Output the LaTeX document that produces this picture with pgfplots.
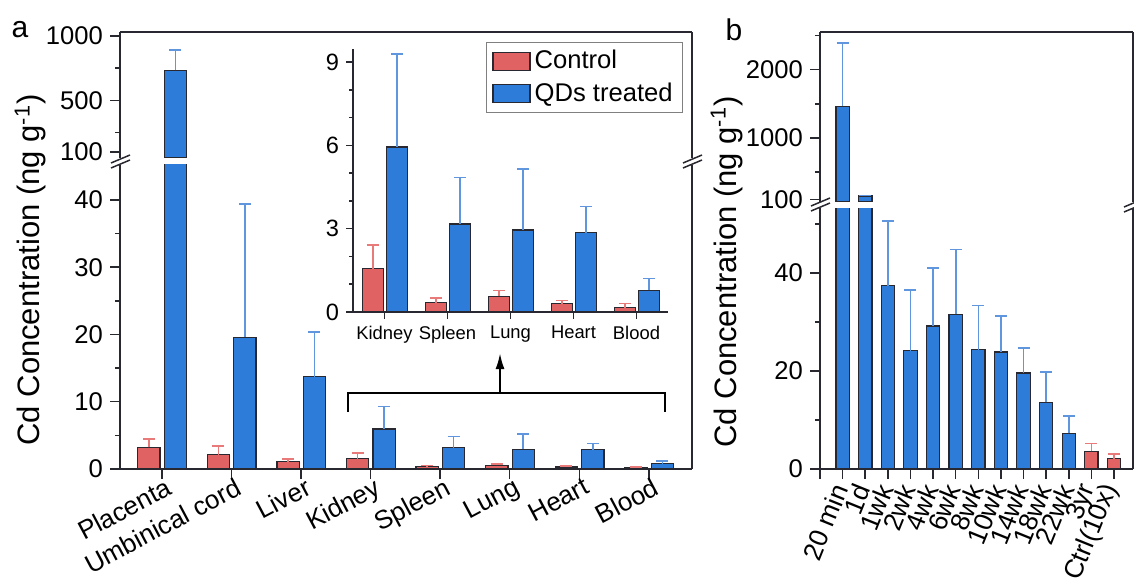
\documentclass[border=0pt]{standalone}
\usepackage{fontspec}
\setmainfont{Liberation Sans}
\usepackage{pgfplots}
\pgfplotsset{compat=1.18}
\usetikzlibrary{arrows.meta}
\definecolor{cred}{RGB}{224,98,98}
\definecolor{cblue}{RGB}{46,124,218}
\definecolor{ered}{RGB}{232,122,122}
\definecolor{eblue}{RGB}{95,150,222}
\definecolor{edge}{RGB}{40,40,48}
\newcommand\fmain{\fontsize{12.8}{15}\selectfont}
\newcommand\fcat{\fontsize{13}{16}\selectfont}
\newcommand\fcatb{\fontsize{13.2}{16}\selectfont}
\newcommand\fsmall{\fontsize{9.2}{11}\selectfont}
\newcommand\finset{\fontsize{11.8}{14}\selectfont}
\newcommand\flab{\fontsize{15.5}{18}\selectfont}
\pgfplotsset{
  base/.style={scale only axis, anchor=south west,
    /pgf/number format/assume math mode=true,
    /pgf/number format/1000 sep={},
    scaled y ticks=false,
    tick align=outside,
    axis line style={line width=0.75pt, edge},
    major tick length=5pt, minor tick length=2.5pt,
    every tick/.append style={line width=0.75pt, edge},
    tick label style={font=\fmain},
    ybar},
  redbar/.style={fill=cred, draw=edge, line width=0.6pt,
    error bars/y dir=plus, error bars/y explicit,
    error bars/error bar style={line width=0.8pt, ered},
    error bars/error mark options={rotate=90, mark size=3pt, line width=0.8pt, ered}},
  bluebar/.style={fill=cblue, draw=edge, line width=0.6pt,
    error bars/y dir=plus, error bars/y explicit,
    error bars/error bar style={line width=0.8pt, eblue},
    error bars/error mark options={rotate=90, mark size=3pt, line width=0.8pt, eblue}},
}
\begin{document}
\begin{tikzpicture}
\path[use as bounding box] (0,0) rectangle (567pt,289.5pt);

% ---------------- panel a, lower part
\begin{axis}[base, name=alow, at={(60pt,55pt)}, width=286pt, height=152pt,
  xmin=-0.6, xmax=7.62, ymin=0, ymax=45.2,
  axis x line*=bottom, axis y line*=left,
  ytick={0,10,20,30,40}, minor ytick={5,15,25,35},
  xtick={0,...,7},
  xticklabels={Placenta,Umbinical cord,Liver,Kidney,Spleen,Lung,Heart,Blood},
  xticklabel style={font=\fcat, rotate=28, anchor=north east, inner sep=1pt, xshift=3pt, yshift=1.5pt},
  bar width=0.32]
\addplot[bar shift=-0.185, redbar] coordinates {
 (0,3.2) +- (0,1.25)  (1,2.15) +- (0,1.3)  (2,1.1) +- (0,0.35)  (3,1.56) +- (0,0.86)
 (4,0.34) +- (0,0.16) (5,0.56) +- (0,0.21) (6,0.30) +- (0,0.12) (7,0.16) +- (0,0.15)};
\addplot[bar shift=0.195, bluebar] coordinates {
 (0,735) +- (0,155)   (1,19.6) +- (0,19.8) (2,13.7) +- (0,6.7)  (3,5.94) +- (0,3.36)
 (4,3.17) +- (0,1.67) (5,2.95) +- (0,2.21) (6,2.85) +- (0,0.95) (7,0.78) +- (0,0.42)};
\end{axis}

% ---------------- panel a, upper part
\begin{axis}[base, name=aup, at={(60pt,210.5pt)}, width=286pt, height=63pt,
  xmin=-0.6, xmax=7.62, ymin=53.5, ymax=1031,
  axis x line*=top, axis y line*=left, xtick=\empty,
  ytick={100,500,1000}, minor ytick={250,750},
  bar width=0.32]
\addplot[bar shift=0.195, bluebar] coordinates {(0,735) +- (0,155)};
\end{axis}

% ---------------- inset
\begin{axis}[base, name=inset, at={(176.5pt,133.5pt)}, width=157.5pt, height=131.5pt,
  xmin=-0.5, xmax=4.5, ymin=0, ymax=9.47,
  axis x line*=bottom, axis y line*=left,
  ytick={0,3,6,9}, minor y tick num=2,
  xtick={0,...,4}, xticklabels={Kidney,Spleen,Lung,Heart,Blood},
  xticklabel style={font=\fsmall}, yticklabel style={font=\finset},
  major tick length=3.5pt, minor tick length=2pt,
  bar width=0.33,
  legend style={at={(1.048,1.027)}, anchor=north east, draw=gray, line width=0.5pt,
    font=\fmain, fill=white, inner xsep=3pt, inner ysep=2pt, row sep=1.5pt},
  legend cell align=left,
  legend image code/.code={\draw[#1,/tikz/.cd] (0pt,-4.5pt) rectangle (18.5pt,4.5pt);}]
\addplot[bar shift=-0.18, redbar] coordinates {
 (0,1.56) +- (0,0.86) (1,0.34) +- (0,0.16) (2,0.56) +- (0,0.21) (3,0.30) +- (0,0.12) (4,0.16) +- (0,0.15)};
\addplot[bar shift=0.2, bluebar] coordinates {
 (0,5.94) +- (0,3.36) (1,3.17) +- (0,1.67) (2,2.95) +- (0,2.21) (3,2.85) +- (0,0.95) (4,0.78) +- (0,0.42)};
\legend{Control, QDs treated}
\end{axis}

% ---------------- panel b, lower part
\begin{axis}[base, name=blow, at={(410pt,55pt)}, width=156.5pt, height=130.5pt,
  xmin=-1, xmax=12.84, ymin=0, ymax=53.3,
  axis x line*=bottom, axis y line*=left,
  ytick={0,20,40}, minor ytick={10,30,50},
  xtick={-1,0,...,12},
  xticklabels={{},20 min,1d,1wk,2wk,4wk,6wk,8wk,10wk,14wk,18wk,22wk,3yr,Ctrl(10x)},
  xticklabel style={font=\fcatb, rotate=68, anchor=east},
  bar width=0.59]
\addplot[bar shift=0, bluebar] coordinates {
 (0,1467) +- (0,922) (1,150) +- (0,10) (2,37.4) +- (0,13.2) (3,24.2) +- (0,12.4)
 (4,29.2) +- (0,11.9) (5,31.6) +- (0,13.2) (6,24.4) +- (0,9.0) (7,23.9) +- (0,7.4)
 (8,19.6) +- (0,5.1) (9,13.6) +- (0,6.2) (10,7.3) +- (0,3.5)};
\addplot[bar shift=0, redbar] coordinates {(11,3.6) +- (0,1.6) (12,2.1) +- (0,1.0)};
\end{axis}

% ---------------- panel b, upper part
\begin{axis}[base, name=bup, at={(410pt,188.5pt)}, width=156.5pt, height=85pt,
  xmin=-1, xmax=12.84, ymin=63, ymax=2552,
  axis x line*=top, axis y line*=left, xtick=\empty,
  ytick={100,1000,2000}, minor ytick={500,1500,2500},
  bar width=0.59]
\addplot[bar shift=0, bluebar] coordinates {(0,1467) +- (0,922) (1,150) +- (0,10)};
\end{axis}

% right-hand axis lines
\draw[line width=0.75pt, edge] (alow.south east) -- (alow.north east);
\draw[line width=0.75pt, edge] (aup.south east) -- (aup.north east);
\draw[line width=0.75pt, edge] (blow.south east) -- (blow.north east);
\draw[line width=0.75pt, edge] (bup.south east) -- (bup.north east);

\begin{scope}[x=0.5pt, y=-0.5pt, yshift=289.5pt]
  % break marks
  \draw[line width=0.75pt, edge] (111,168) -- (130,160) (111,163) -- (130,155);
  \draw[line width=0.75pt, edge] (683,168) -- (702,160) (683,163) -- (702,155);
  \draw[line width=0.75pt, edge] (811,211) -- (830,203) (811,206) -- (830,198);
  \draw[line width=0.75pt, edge] (1124,212) -- (1143,204) (1124,207) -- (1143,199);
  % bracket and arrow
  \draw[line width=1.1pt, black] (348,412) -- (348,393) -- (665,393) -- (665,412);
  \draw[line width=1.1pt, black, -{Latex[length=8pt,width=4.5pt]}] (500,393) -- (500,353);
  % axis titles and panel letters
  \node[rotate=90, anchor=base, font=\flab, inner sep=0pt] at (40,270) {Cd Concentration (ng g\textsuperscript{-1})};
  \node[rotate=90, anchor=base, font=\flab, inner sep=0pt] at (736,272) {Cd Concentration (ng g\textsuperscript{-1})};
  \node[font=\fontsize{15}{18}\selectfont] at (20,30) {a};
  \node[font=\fontsize{15}{18}\selectfont] at (734,30) {b};
\end{scope}
\end{tikzpicture}
\end{document}
